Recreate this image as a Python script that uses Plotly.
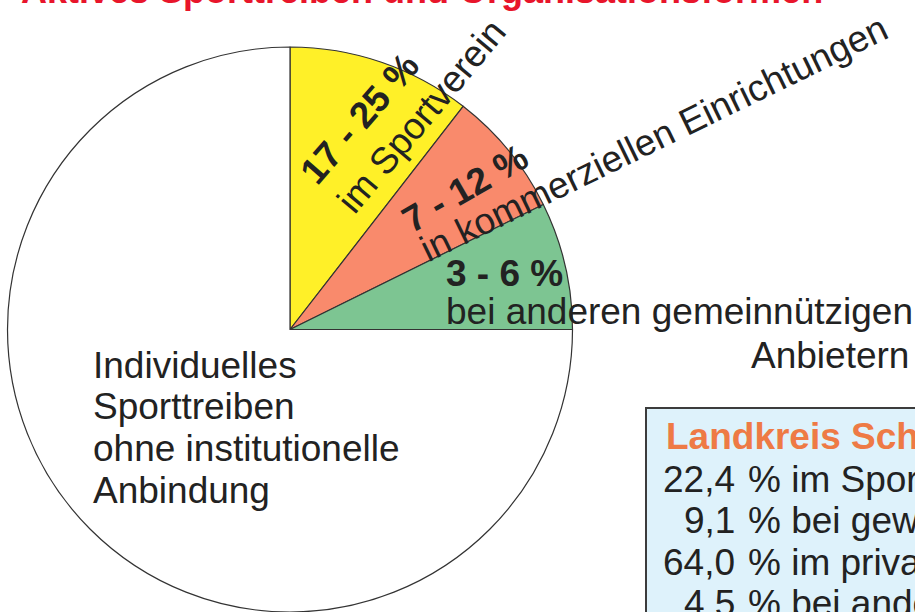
import plotly.graph_objects as go

W, H = 915, 612

# Pie slices (clockwise from 12 o'clock)
segments = [
    "im Sportverein",
    "in kommerziellen Einrichtungen",
    "bei anderen gemeinnützigen Anbietern",
    "Individuelles Sporttreiben ohne institutionelle Anbindung",
]
share_ranges = ["17 - 25 %", "7 - 12 %", "3 - 6 %", ""]
slice_shares = [10.5, 7.2, 7.3, 75.0]
slice_colors = ["#FFF028", "#F98A6C", "#7DC592", "#FFFFFF"]

# Inset: Landkreis figures
district_name = "Landkreis Schwäbisch Hall"
district_values = [22.4, 9.1, 64.0, 4.5]
district_labels = [
    "im Sportverein",
    "bei gewerblichen Anbietern",
    "im privaten Rahmen",
    "bei anderen Anbietern",
]

title_text = "Aktives Sporttreiben und Organisationsformen"

FONT = "Liberation Sans, Arial, Helvetica, sans-serif"
TXT = "#222222"
FS = 37


def px(x):
    return x / W


def py(y):
    return 1 - y / H


fig = go.Figure(
    go.Pie(
        labels=segments,
        values=slice_shares,
        sort=False,
        direction="clockwise",
        rotation=0,
        marker=dict(colors=slice_colors, line=dict(color="#333333", width=1.2)),
        textinfo="none",
        hoverinfo="label",
        showlegend=False,
        domain=dict(x=[px(7), px(573)], y=[0, py(47)]),
    )
)

annotations = []


def note(text, x, y, size=FS, bold=False, color=TXT, xanchor="center",
         yanchor="middle", angle=0):
    if bold:
        text = "<b>" + text + "</b>"
    annotations.append(dict(
        text=text, x=px(x), y=py(y), xref="paper", yref="paper",
        xanchor=xanchor, yanchor=yanchor, textangle=angle, showarrow=False,
        borderpad=0, font=dict(family=FONT, size=size, color=color),
    ))


# Title (runs off the top edge)
note(title_text, 422, -10, size=36, bold=True, color="#E8152B")

# Slice labels
note(share_ranges[0], 360, 119, bold=True, angle=-49)
note(segments[0], 421, 116, angle=-50)
note(share_ranges[1], 465, 188, bold=True, angle=-30)
note(segments[1], 654, 139, angle=-26)
note(share_ranges[2], 445, 273, bold=True, xanchor="left")
note("bei anderen gemeinnützigen", 445, 311, xanchor="left")
note("Anbietern", 910, 355, xanchor="right")

for i, line in enumerate(["Individuelles", "Sporttreiben",
                          "ohne institutionelle", "Anbindung"]):
    note(line, 92, 365 + i * 41.7, xanchor="left")

# Inset box
fig.add_shape(type="rect", xref="paper", yref="paper",
              x0=px(646), x1=px(960), y0=py(408), y1=py(660),
              fillcolor="#DEF2FB", line=dict(color="#3C3C3C", width=2),
              layer="below")

note(district_name, 665, 436, bold=True, color="#EE7A45", xanchor="left")
for i, (v, lab) in enumerate(zip(district_values, district_labels)):
    yy = 479 + i * 41.5
    note(f"{v:.1f}".replace(".", ","), 736, yy, xanchor="right")
    note("% " + lab, 747, yy, xanchor="left")

fig.update_layout(
    width=W, height=H,
    margin=dict(l=0, r=0, t=0, b=0),
    paper_bgcolor="white", plot_bgcolor="white",
    annotations=annotations,
)

fig.write_html("out.html")
